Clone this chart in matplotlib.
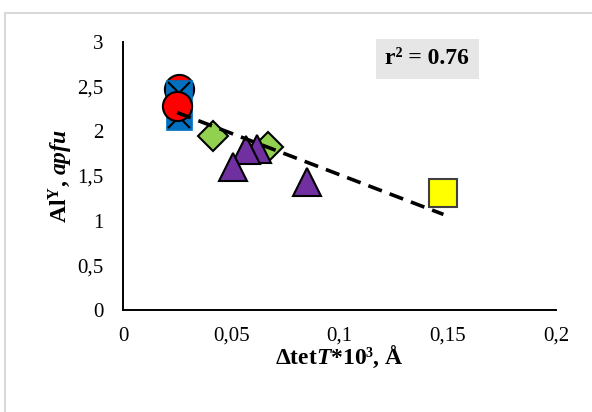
import matplotlib
matplotlib.use('Agg')
import matplotlib.pyplot as plt
from matplotlib.patches import Rectangle

plt.rcParams['font.family'] = 'Liberation Serif'
plt.rcParams['mathtext.fontset'] = 'custom'
plt.rcParams['mathtext.rm'] = 'Liberation Serif:bold'
plt.rcParams['mathtext.it'] = 'Liberation Serif:bold:italic'
plt.rcParams['mathtext.bf'] = 'Liberation Serif:bold'

# data
blue_x = [0.026, 0.026]
blue_y = [2.43, 2.16]
red_x = [0.026, 0.025]
red_y = [2.47, 2.28]
green_x = [0.0415, 0.067]
green_y = [1.95, 1.82]
purple_x = [0.062, 0.057, 0.051, 0.085]
purple_y = [1.80, 1.79, 1.60, 1.43]
yellow_x = [0.148]
yellow_y = [1.31]
trend_x = [0.025, 0.148]
trend_y = [2.21, 1.07]

xticks = [0, 0.05, 0.1, 0.15, 0.2]
xtick_labels = ['0', '0,05', '0,1', '0,15', '0,2']
yticks = [0, 0.5, 1, 1.5, 2, 2.5, 3]
ytick_labels = ['0', '0,5', '1', '1,5', '2', '2,5', '3']

fig = plt.figure(figsize=(5.92, 4.12), dpi=100)
ax = fig.add_axes([123 / 592, 1 - 310 / 412, 433 / 592, 268 / 412])

# outer chart border
fig.patches.append(Rectangle((5 / 592, -0.05), 1.0, 1 - 13 / 412 + 0.05, transform=fig.transFigure,
                             fill=False, edgecolor='#d9d9d9', linewidth=1.5))

ax.plot(red_x[:1], red_y[:1], 'o', ms=21, mfc='#ff0000', mec='black', mew=1.5, zorder=2)
ax.plot(blue_x, blue_y, 's', ms=19, mfc='#0070c0', mec='#0070c0', mew=0.5, zorder=3)
ax.plot(blue_x, blue_y, 'x', ms=16, mec='black', mew=1.5, zorder=3)
ax.plot(red_x[1:], red_y[1:], 'o', ms=21, mfc='#ff0000', mec='black', mew=1.5, zorder=4)
ax.plot(green_x, green_y, 'D', ms=15, mfc='#92d050', mec='black', mew=1.5, zorder=3)
ax.plot(purple_x, purple_y, '^', ms=19.5, mfc='#7030a0', mec='black', mew=1.5, zorder=3)
ax.plot(yellow_x, yellow_y, 's', ms=19.5, mfc='#ffff00', mec='#404040', mew=1.5, zorder=3)
ax.plot(trend_x, trend_y, color='black', lw=2.6, dashes=(4, 2.3), zorder=5)

ax.set_xlim(0, 0.2)
ax.set_ylim(0, 3)
ax.set_xticks(xticks)
ax.set_xticklabels(xtick_labels)
ax.set_yticks(yticks)
ax.set_yticklabels(ytick_labels)
ax.tick_params(length=0, labelsize=15)
ax.tick_params(axis='x', pad=12)
ax.tick_params(axis='y', pad=14)
for s in ['top', 'right']:
    ax.spines[s].set_visible(False)
for s in ['left', 'bottom']:
    ax.spines[s].set_linewidth(1.4)

ax.set_xlabel('Δtet$\\mathit{T}$*10³, Å', fontsize=17, fontweight='bold', labelpad=-1)
ax.set_ylabel('Al$^{\\mathrm{Y}}$, $\\mathit{apfu}$', fontsize=17, fontweight='bold', labelpad=2)

ax.text(0.703, 0.937, 'r² = 0.76', transform=ax.transAxes, fontsize=17, fontweight='bold',
        ha='center', va='center',
        bbox=dict(boxstyle='square,pad=0.4', facecolor='#e6e6e6', edgecolor='none'))

fig.savefig('out.png', dpi=100)
